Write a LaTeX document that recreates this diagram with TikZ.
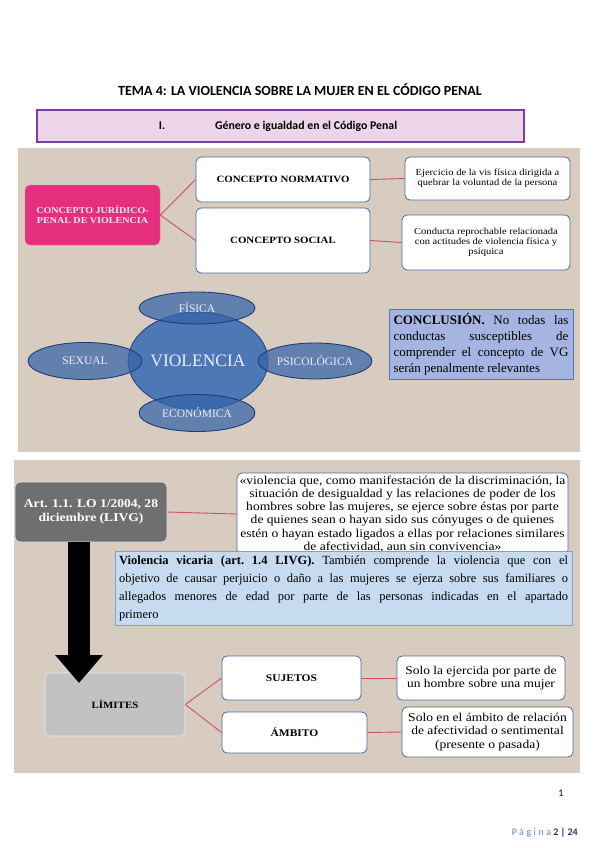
\documentclass[tikz,border=0pt]{standalone}
\usepackage{fontspec}
\setmainfont{Liberation Serif}
\newfontfamily\wf[FakeStretch=1.13]{Liberation Serif}
\newfontfamily\carl{Carlito}
\usetikzlibrary{shapes.geometric,arrows.meta}
\newcommand\fsz[2]{\fontsize{#1}{#2}\selectfont}
\definecolor{beige}{HTML}{D8CCC1}
\definecolor{magc}{HTML}{E52E7D}
\definecolor{linkc}{HTML}{C8506E}
\definecolor{bord}{HTML}{4A6A9E}
\definecolor{ellbig}{HTML}{4C79B6}
\definecolor{ellsm}{HTML}{3564A8}
\definecolor{ellbord}{HTML}{1E3C78}
\definecolor{conclf}{HTML}{A6B4E2}
\definecolor{conclb}{HTML}{5A74BC}
\definecolor{artgray}{HTML}{6F6F6F}
\definecolor{vicf}{HTML}{C6DAF0}
\definecolor{vicb}{HTML}{7DA1D1}
\definecolor{limf}{HTML}{C2C2C5}
\definecolor{purf}{HTML}{EDD4E8}
\definecolor{purb}{HTML}{7B3FA0}
\definecolor{pagc}{HTML}{5B8BC6}
\definecolor{navy}{HTML}{1F3864}
\tikzset{
  wbox/.style={draw=bord, fill=white, rounded corners=5pt, line width=0.8pt, align=center, inner sep=2pt},
  link/.style={draw=linkc, line width=0.9pt},
  bigell/.style={ellipse, draw=ellbord, line width=0.8pt, fill=ellbig, text=white!92!blue, inner sep=0pt},
  smell/.style={ellipse, draw=ellbord, line width=0.9pt, fill=ellsm, fill opacity=0.72, text opacity=1, text=white!92!blue, inner sep=0pt, font=\fsz{11.5}{13}},
  bigarrow/.style={line width=22pt, -{Triangle[width=46pt,length=28pt]}, black}
}
\begin{document}
\begin{tikzpicture}[x=1pt,y=-1pt]
\useasboundingbox (0,0) rectangle (599,848);
\fill[white] (0,0) rectangle (599,848);

% title
\node[font=\carl\bfseries\fsz{14}{16}] (title) at (300,90) {TEMA 4: LA VIOLENCIA SOBRE LA MUJER EN EL CÓDIGO PENAL};
\node[draw=purb, fill=purf, line width=1.3pt, minimum width=487, minimum height=32] (sec) at (280.5,126) {};
\node[font=\carl\bfseries\fsz{11.8}{13}] (secnum) at (162,126) {I.};
\node[font=\carl\bfseries\fsz{11.8}{13}, anchor=west, inner sep=0pt] (sectext) at (215,126) {Género e igualdad en el Código Penal};

% panel 1
\fill[beige] (18,148) rectangle (580,452);
\node[fill=magc, draw=magc!70!white, rounded corners=5pt, minimum width=135, minimum height=60, text=white!90!magc, font=\wf\bfseries\fsz{8.9}{10.3}, align=center] (cjp) at (92.5,215) {CONCEPTO JURÍDICO-\\PENAL DE VIOLENCIA};
\node[wbox, minimum width=174, minimum height=45, font=\wf\bfseries\fsz{9.6}{11}] (norm) at (283,179.5) {CONCEPTO NORMATIVO};
\node[wbox, minimum width=174, minimum height=65, font=\wf\bfseries\fsz{9.6}{11}] (soc) at (283,240.5) {CONCEPTO SOCIAL};
\node[wbox, minimum width=165, minimum height=43, font=\wf\fsz{9.3}{10}] (ejer) at (487.5,178.5) {Ejercicio de la vis física dirigida a\\quebrar la voluntad de la persona};
\node[wbox, minimum width=168, minimum height=55, font=\wf\fsz{9.3}{10}] (cond) at (486,242.5) {Conducta reprochable relacionada\\con actitudes de violencia física y\\psíquica};
\draw[link] (cjp.east) -- (norm.west);
\draw[link] (cjp.east) -- (soc.west);
\draw[link] (norm.east) -- (ejer.west);
\draw[link] (soc.east) -- (cond.west);

% ellipses
\node[bigell, minimum width=140, minimum height=98, font=\fsz{17.5}{20}] (viol) at (198,361) {VIOLENCIA};
\node[smell, minimum width=116, minimum height=32] (fis) at (197,308) {FÍSICA};
\node[smell, minimum width=114, minimum height=37] (sex) at (85,361) {SEXUAL};
\node[smell, minimum width=114, minimum height=36] (psi) at (315,361) {PSICOLÓGICA};
\node[smell, minimum width=116, minimum height=37] (eco) at (197,413) {ECONÓMICA};

\node[draw=conclb, fill=conclf, line width=0.8pt, minimum width=184, minimum height=70, text width=175, inner sep=4pt, align=justify, font=\fsz{13}{16}] (concl) at (481,344) {\textbf{CONCLUSIÓN.} No todas las\linebreak conductas susceptibles de\linebreak comprender el concepto de VG\linebreak serán penalmente relevantes};

% panel 2
\fill[beige] (14,460) rectangle (580,773);
\node[fill=artgray, draw=white!80!gray, line width=0.6pt, rounded corners=5pt, minimum width=152, minimum height=60, text=white, font=\wf\bfseries\fsz{12}{13.5}, align=center] (art) at (91,512) {Art. 1.1. LO 1/2004, 28\\diciembre (LIVG)};
\node[wbox, minimum width=331, minimum height=82, font=\wf\fsz{12}{13.2}, inner sep=1pt] (quote) at (402.5,514) {«violencia que, como manifestación de la discriminación, la\\situación de desigualdad y las relaciones de poder de los\\hombres sobre las mujeres, se ejerce sobre éstas por parte\\de quienes sean o hayan sido sus cónyuges o de quienes\\estén o hayan estado ligados a ellas por relaciones similares\\de afectividad, aun sin convivencia»};
\draw[link] (art.east) -- (quote.west);
\node[draw=vicb, fill=vicf, line width=0.8pt, minimum width=457, minimum height=74, text width=449, inner sep=4pt, align=justify, font=\fsz{12.5}{18}] (vic) at (343.5,588) {\textbf{Violencia vicaria (art.\ 1.4 LIVG).} También comprende la violencia que con el\linebreak objetivo de causar perjuicio o daño a las mujeres se ejerza sobre sus familiares o\linebreak allegados menores de edad por parte de las personas indicadas en el apartado\linebreak primero};

\node[fill=limf, draw=white!85!gray, line width=0.6pt, rounded corners=5pt, minimum width=140, minimum height=63, font=\wf\bfseries\fsz{9.7}{11}] (lim) at (115,704.5) {LÍMITES};
\coordinate (arrtop) at (79,542);
\coordinate (arrtip) at (79,683);
\draw[bigarrow] (arrtop) -- (arrtip);
\node[wbox, minimum width=139, minimum height=44, font=\wf\bfseries\fsz{10.2}{12}] (suj) at (291.5,678) {SUJETOS};
\node[wbox, minimum width=145, minimum height=41, font=\wf\bfseries\fsz{10.2}{12}] (amb) at (294.5,732.5) {ÁMBITO};
\node[wbox, minimum width=168, minimum height=44, font=\wf\fsz{11.9}{13.4}] (solo1) at (481,678) {Solo la ejercida por parte de\\un hombre sobre una mujer};
\node[wbox, minimum width=171, minimum height=50, font=\wf\fsz{12}{13.4}] (solo2) at (487.5,732) {Solo en el ámbito de relación\\de afectividad o sentimental\\(presente o pasada)};
\draw[link] (lim.east) -- (suj.west);
\draw[link] (lim.east) -- (amb.west);
\draw[link] (suj.east) -- (solo1.west);
\draw[link] (amb.east) -- (solo2.west);

% footer
\node[font=\carl\fsz{10}{12}] (pnum) at (561,793) {1};
\node[anchor=east, inner sep=0pt, font=\carl\fsz{10}{12}] (pag) at (578,833) {{\addfontfeature{LetterSpace=25}\color{pagc}Página} \textbf{\color{navy}2 | 24}};
\end{tikzpicture}
\end{document}
